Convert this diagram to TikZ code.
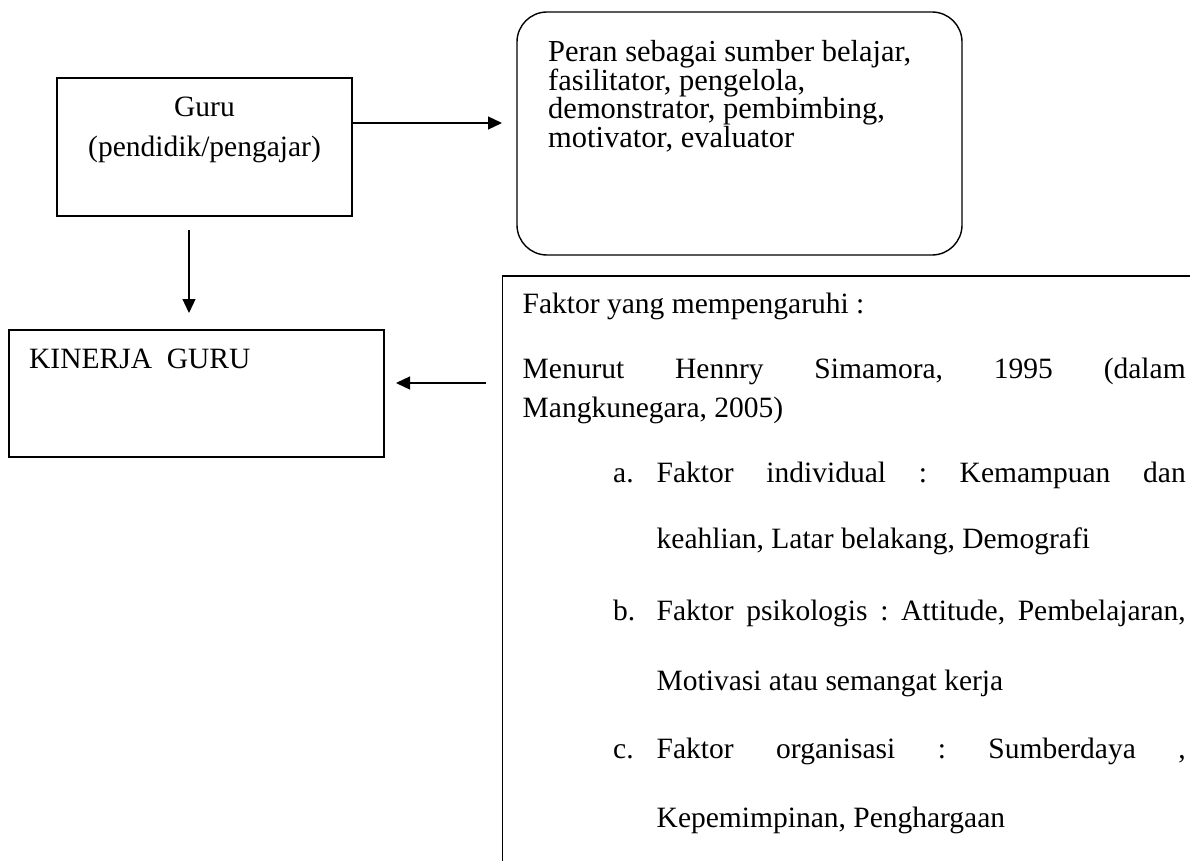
\documentclass[tikz,border=0pt]{standalone}
\usepackage{fontspec}
\setmainfont{Liberation Serif}
\frenchspacing
\usepackage{tikz}
\usetikzlibrary{arrows.meta, positioning}

\begin{document}
\begin{tikzpicture}[x=1pt, y=-1pt,
        kotak/.style={draw, line width=1.4pt, inner sep=0pt},
        teks/.style={inner sep=0pt, anchor=base west, font=\fontsize{29.5}{36}\selectfont},
        teksbesar/.style={teks, font=\fontsize{30.5}{36}\selectfont},
        panah/.style={line width=1.3pt, -{Triangle[length=14pt, width=13pt]}}]
        \useasboundingbox (0,0) rectangle (1190,861);

        % Box 1: Guru
        \node[kotak, minimum width=295pt, minimum height=138pt] (guru) at (204.5,147) {};
        \node[teks, anchor=base] (guru1) at (204.5,117) {Guru};
        \node[teks, anchor=base] (guru2) at (204.5,157) {(pendidik/pengajar)};

        % Box 2: Peran
        \node[kotak, rounded corners=30pt, minimum width=445pt, minimum height=243pt] (peran) at (739.5,133.5) {};
        \node[teksbesar] (peran1) at (548,62) {Peran sebagai sumber belajar,};
        \node[teksbesar] (peran2) at (548,90.5) {fasilitator, pengelola,};
        \node[teksbesar] (peran3) at (548,119) {demonstrator, pembimbing,};
        \node[teksbesar] (peran4) at (548,147.5) {motivator, evaluator};

        % Box 3: Kinerja guru
        \node[kotak, minimum width=375pt, minimum height=127pt] (kinerja) at (196.5,393.5) {};
        \node[teks] (kinerja1) at (29,368) {KINERJA\ \ GURU};

        % Box 4: Faktor (runs off the page)
        \draw[line width=1.4pt] (1190,276) -- (502.5,276) -- (502.5,861);
        \node[teks] (faktor1) at (522.5,313) {Faktor yang mempengaruhi :};
        \node[teks] (faktor2) at (522.5,378) {\makebox[663pt][s]{Menurut Hennry Simamora, 1995 (dalam}};
        \node[teks] (faktor3) at (522.5,417) {Mangkunegara, 2005)};
        \node[teks] (itema) at (613,482) {a.};
        \node[teks] (itema1) at (656.5,482) {\makebox[529pt][s]{Faktor individual : Kemampuan dan}};
        \node[teks] (itema2) at (656.5,548) {keahlian, Latar belakang, Demografi};
        \node[teks] (itemb) at (613,620) {b.};
        \node[teks] (itemb1) at (656.5,620) {\makebox[529pt][s]{Faktor psikologis : Attitude, Pembelajaran,}};
        \node[teks] (itemb2) at (656.5,690) {Motivasi atau semangat kerja};
        \node[teks] (itemc) at (613,758) {c.};
        \node[teks] (itemc1) at (656.5,758) {\makebox[529pt][s]{Faktor organisasi : Sumberdaya ,}};
        \node[teks] (itemc2) at (656.5,827) {Kepemimpinan, Penghargaan};

        % Arrows
        \coordinate (keperan) at (502,123);
        \coordinate (turun1) at (189,230);
        \coordinate (turun2) at (189,313);
        \coordinate (darifaktor) at (486,383);
        \coordinate (kekinerja) at (396,383);
        \draw[panah] (guru.east |- keperan) -- (keperan);
        \draw[panah] (turun1) -- (turun2);
        \draw[panah] (darifaktor) -- (kekinerja);
    \end{tikzpicture}
\end{document}
